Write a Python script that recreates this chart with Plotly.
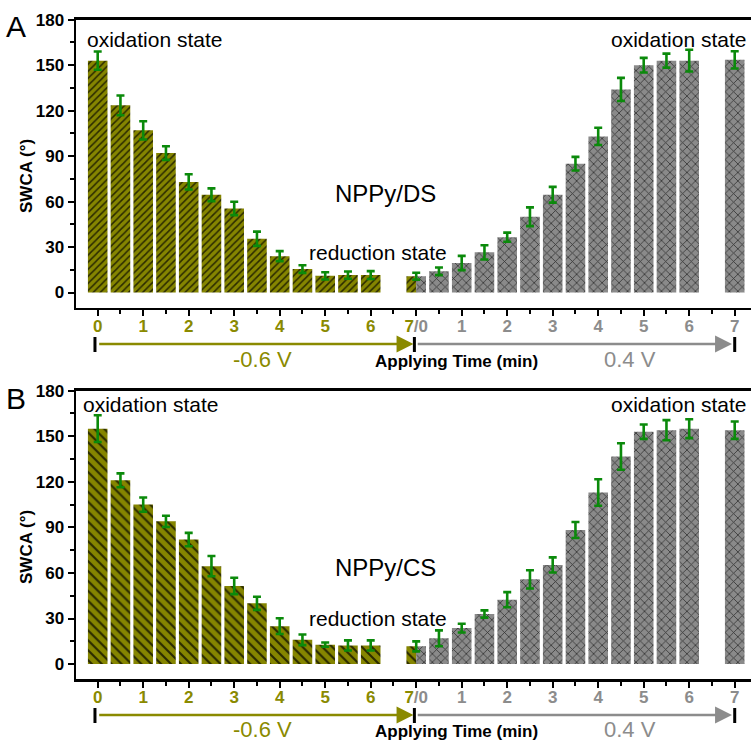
import plotly.graph_objects as go

W, H = 751, 741

# ---------------- data ----------------
t_reduction = [0, 0.5, 1, 1.5, 2, 2.5, 3, 3.5, 4, 4.5, 5, 5.5, 6, 7]
t_oxidation = [0.5, 1, 1.5, 2, 2.5, 3, 3.5, 4, 4.5, 5, 5.5, 6, 7]

A_reduction = [153, 123.5, 107, 92, 73, 64.5, 55.5, 35.5, 24, 15.5, 11, 11.5, 11.5, 10.8]
A_reduction_err = [6, 6.5, 6, 4.5, 5, 4.2, 4.4, 4.7, 3.3, 2.5, 2.4, 2.4, 2.6, 2.3]
A_oxidation = [14, 19.5, 26.5, 36.5, 50, 64.5, 85, 103, 134, 150, 153, 153, 153.5]
A_oxidation_err = [2.5, 4.7, 4.7, 3, 6.2, 5.2, 4.5, 5.7, 7.6, 4.8, 4.6, 7.2, 5.7]

B_reduction = [155, 121, 105, 94, 82, 64.5, 51.5, 40, 25, 16, 12.8, 12.3, 12.3, 11.7]
B_reduction_err = [8.8, 4.6, 4.7, 3.7, 4.4, 6.7, 5.4, 4.3, 5.2, 3.5, 1.4, 3.3, 3.3, 3.3]
B_oxidation = [17, 23.7, 33, 42.4, 55.8, 65.3, 88.3, 113, 136.7, 153, 154, 155, 154]
B_oxidation_err = [5.2, 2.9, 2.4, 5, 6, 5, 5.3, 8.7, 8.7, 4.7, 6.6, 6.2, 5.7]

reduction_tick_labels = ["0", "1", "2", "3", "4", "5", "6", "7"]
oxidation_tick_labels = ["0", "1", "2", "3", "4", "5", "6", "7"]
y_ticks = [0, 30, 60, 90, 120, 150, 180]
y_minor = [15, 45, 75, 105, 135, 165]

# ---------------- styles ----------------
OLIVE = "#858500"
OLIVE_TXT = "#8a8a00"
GRAY = "#8a8a8a"
GRAY_TXT = "#8c8c8c"
GREEN = "#0b8a0b"
FONT = "Liberation Sans"
BW = 0.43            # bar width (minutes)
PHASE_SHIFT = 7      # oxidation phase starts at reduction minute 7


def px(x):
    return x / W


def py(y):
    return 1 - y / H


panels = [
    dict(name="NPPy/DS", letter="A", red=A_reduction, red_err=A_reduction_err,
         ox=A_oxidation, ox_err=A_oxidation_err, top=19.7, bottom=307.7, hatch="/", hsize=5,
         y_letter=26, y_ox=40, x_ox=86, y_name=193, y_red=252, y_title=176, y_arrow=344, y_v=360, y_time=361),
    dict(name="NPPy/CS", letter="B", red=B_reduction, red_err=B_reduction_err,
         ox=B_oxidation, ox_err=B_oxidation_err, top=390.7, bottom=679.3, hatch="\\", hsize=7,
         y_letter=398, y_ox=404.5, x_ox=82, y_name=567, y_red=618, y_title=547, y_arrow=715, y_v=729, y_time=731),
]

# tick text
ticktext = []
for lab in reduction_tick_labels[:-1]:
    ticktext.append(f"<span style='color:{OLIVE_TXT}'>{lab}</span>")
ticktext.append(f"<span style='color:{OLIVE_TXT}'>{reduction_tick_labels[-1]}</span>"
                f"<span style='color:{GRAY_TXT}'>/{oxidation_tick_labels[0]}</span>")
for lab in oxidation_tick_labels[1:]:
    ticktext.append(f"<span style='color:{GRAY_TXT}'>{lab}</span>")
tickvals = list(range(len(ticktext)))

fig = go.Figure()
layout = dict(
    width=W, height=H, margin=dict(l=0, r=0, t=0, b=0, pad=0, autoexpand=False),
    paper_bgcolor="white", plot_bgcolor="white", showlegend=False,
    barmode="overlay", font=dict(family=FONT, color="black"),
)
annotations = []
shapes = []


def label(text, x, y, size, color="black", xanchor="center", weight="normal", angle=0):
    return dict(text=text, x=px(x), y=py(y), xref="paper", yref="paper",
                xanchor=xanchor, yanchor="middle", showarrow=False, textangle=angle,
                borderpad=0, font=dict(size=size, family=FONT, color=color, weight=weight))


for i, p in enumerate(panels):
    sfx = "" if i == 0 else str(i + 1)
    xr, yr = "x" + sfx, "y" + sfx
    n_red = len(t_reduction)
    red_w = [BW if t < t_reduction[-1] else BW / 2 for t in t_reduction]
    red_off = [-BW / 2] * n_red
    fig.add_trace(go.Bar(
        x=t_reduction, y=p["red"], width=red_w, offset=red_off,
        marker=dict(color=OLIVE, line=dict(width=0),
                    pattern=dict(shape=p["hatch"], fgcolor="#2a2a00", bgcolor=OLIVE,
                                 size=p["hsize"], solidity=0.3, fillmode="replace")),
        xaxis=xr, yaxis=yr, hoverinfo="skip"))
    ox_x = [PHASE_SHIFT] + [PHASE_SHIFT + t for t in t_oxidation]
    ox_y = [p["red"][-1]] + p["ox"]
    ox_w = [BW / 2] + [BW] * len(t_oxidation)
    ox_off = [0] + [-BW / 2] * len(t_oxidation)
    fig.add_trace(go.Bar(
        x=ox_x, y=ox_y, width=ox_w, offset=ox_off,
        marker=dict(color=GRAY, line=dict(width=0),
                    pattern=dict(shape="x", fgcolor="#333333", bgcolor=GRAY,
                                 size=6, solidity=0.25, fillmode="replace")),
        xaxis=xr, yaxis=yr, hoverinfo="skip"))
    fig.add_trace(go.Scatter(
        x=t_reduction + [PHASE_SHIFT + t for t in t_oxidation],
        y=p["red"] + p["ox"], mode="markers",
        marker=dict(size=1, color="rgba(0,0,0,0)"),
        error_y=dict(type="data", array=p["red_err"] + p["ox_err"], visible=True,
                     color=GREEN, thickness=2.6, width=4),
        xaxis=xr, yaxis=yr, hoverinfo="skip"))

    dom_y = [py(p["bottom"]), py(p["top"])]
    layout["xaxis" + sfx] = dict(
        domain=[px(76), 1], range=[-0.477, 14.358], anchor=yr, automargin=False,
        showline=True, linecolor="black", linewidth=2.5, mirror=True,
        ticks="outside", ticklen=6, tickwidth=2, tickcolor="black",
        tickmode="array", tickvals=tickvals, ticktext=ticktext, ticklabelstandoff=-5,
        tickfont=dict(family=FONT, size=17, weight="bold"),
        minor=dict(tickmode="array", tickvals=[v + 0.5 for v in tickvals[:-1]],
                   ticks="outside", ticklen=4, tickwidth=2, tickcolor="black", showgrid=False),
        showgrid=False, zeroline=False, fixedrange=True,
    )
    layout["yaxis" + sfx] = dict(
        domain=dom_y, range=[-10, 180], anchor=xr, automargin=False,
        showline=True, linecolor="black", linewidth=2.5,
        ticks="outside", ticklen=6, tickwidth=2, tickcolor="black",
        tickmode="array", tickvals=y_ticks, ticktext=[str(v) for v in y_ticks],
        tickfont=dict(family=FONT, size=17, weight="bold"),
        minor=dict(tickmode="array", tickvals=y_minor, ticks="outside", ticklen=4,
                   tickwidth=2, tickcolor="black", showgrid=False),
        showgrid=False, zeroline=False, fixedrange=True,
    )

    annotations += [
        label(p["letter"], 16, p["y_letter"], 30),
        label("oxidation state", p["x_ox"], p["y_ox"], 21, xanchor="left"),
        label("oxidation state", 747, p["y_ox"], 21, xanchor="right"),
        label(p["name"], 385, p["y_name"], 24),
        label("reduction state", 378, p["y_red"], 21),
        label("SWCA (°)", 26, p["y_title"], 17, weight="bold", angle=-90),
        label("-0.6 V", 262, p["y_v"], 22, color=OLIVE_TXT),
        label("0.4 V", 630, p["y_v"], 22, color=GRAY_TXT),
        label("Applying Time (min)", 456, p["y_time"], 17, weight="bold"),
    ]
    ay = py(p["y_arrow"])
    annotations += [
        dict(text="", x=PHASE_SHIFT - 0.06, y=ay, xref=xr, yref="paper", ax=0, ay=0,
             axref=xr, ayref="pixel", showarrow=True, arrowhead=2, arrowsize=1.3,
             arrowwidth=2.6, arrowcolor=OLIVE_TXT),
        dict(text="", x=2 * PHASE_SHIFT - 0.06, y=ay, xref=xr, yref="paper", ax=PHASE_SHIFT, ay=0,
             axref=xr, ayref="pixel", showarrow=True, arrowhead=2, arrowsize=1.3,
             arrowwidth=2.6, arrowcolor=GRAY_TXT),
    ]
    for xv in [-0.06, PHASE_SHIFT - 0.04, 2 * PHASE_SHIFT]:
        shapes.append(dict(type="line", xref=xr, yref="paper", x0=xv, x1=xv,
                           y0=py(p["y_arrow"] - 7), y1=py(p["y_arrow"] + 8),
                           line=dict(color="black", width=3)))

layout["annotations"] = annotations
layout["shapes"] = shapes
fig.update_layout(**layout)
fig.write_html("out.html", config={"displayModeBar": False, "staticPlot": True},
               post_script="document.body.style.margin='0px';")
